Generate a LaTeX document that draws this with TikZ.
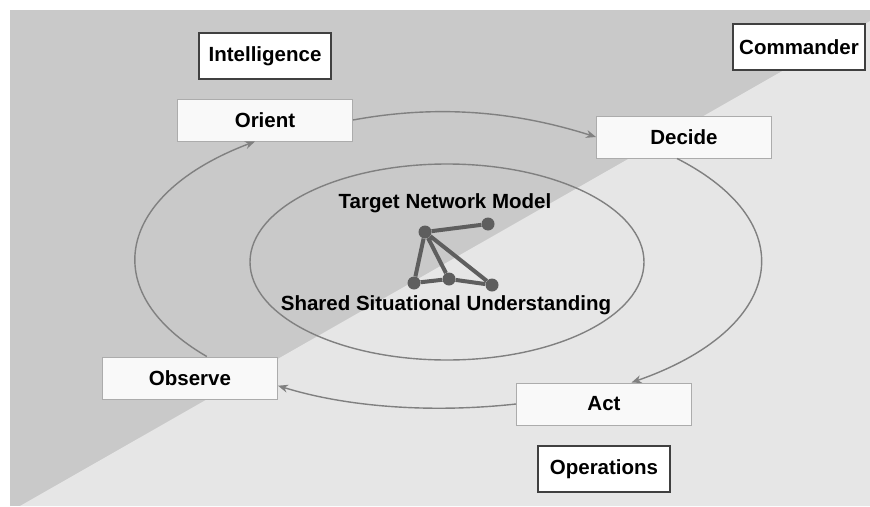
\documentclass[tikz,border=0pt]{standalone}
\usepackage{fontspec}
\setmainfont{Liberation Sans}
\usetikzlibrary{arrows.meta}

\definecolor{darkbg}{HTML}{C9C9C9}
\definecolor{lightbg}{HTML}{E6E6E6}
\definecolor{loopgray}{HTML}{808080}
\definecolor{netgray}{HTML}{5E5E5E}

\tikzset{
  boxfont/.style={font=\fontsize{20.5}{24}\selectfont\bfseries},
  phase/.style={boxfont, draw=gray!65, fill=gray!5, line width=1pt, minimum width=175pt, minimum height=42pt},
  role/.style={boxfont, draw=black!75, fill=white, line width=1.2pt, minimum width=132pt, minimum height=46pt},
  loop/.style={draw=loopgray, line width=1.4pt, -{Stealth[length=10pt, width=8pt]}},
  vertex/.style={circle, fill=netgray, inner sep=0pt, minimum size=13pt},
  link/.style={draw=netgray, line width=4pt}
}

\begin{document}
\begin{tikzpicture}[x=1pt, y=1pt]
        \useasboundingbox (0,0) rectangle (870,-506);
        \fill [darkbg] (10,-10) rectangle (870,-506);
        \fill [lightbg] (20,-506) -- (870,-21) -- (870,-506) -- cycle;

        \node [role] (intel) at (265,-56) {Intelligence};
        \node [role] (cmdr) at (799,-47) {Commander};
        \node [role] (ops) at (604,-469) {Operations};

        \node [phase] (orient) at (265,-120) {Orient};
        \node [phase] (decide) at (684,-137) {Decide};
        \node [phase] (observe) at (190,-378) {Observe};
        \node [phase] (act) at (604,-404) {Act};

        \draw [loopgray, line width=1.4pt] (447,-262) ellipse [x radius=197, y radius=98];
        \node [boxfont] (model) at (445,-203) {Target Network Model};
        \node [boxfont] (shared) at (446,-305) {Shared Situational Understanding};

        \node [vertex] (va) at (425,-232) {};
        \node [vertex] (vb) at (488,-224) {};
        \node [vertex] (vc) at (414,-283) {};
        \node [vertex] (vd) at (449,-279) {};
        \node [vertex] (ve) at (492,-285) {};
        \draw [link] (va) -- (vb) (va) -- (vc) (va) -- (vd) (va) -- (ve) (vc) -- (vd) (vd) -- (ve);

        \draw [loop] (orient.east) .. controls +(87,16) and +(-79,25) .. (decide.west);
        \draw [loop] (decide.252) .. controls +(129,-66) and +(152,53) .. (act.38);
        \draw [loop] (act.west) .. controls +(-82,-9) and +(71,-22) .. (observe.-5);
        \draw [loop] (observe.52) .. controls +(-112,65) and +(-138,-52) .. (orient.245);
    \end{tikzpicture}
\end{document}
